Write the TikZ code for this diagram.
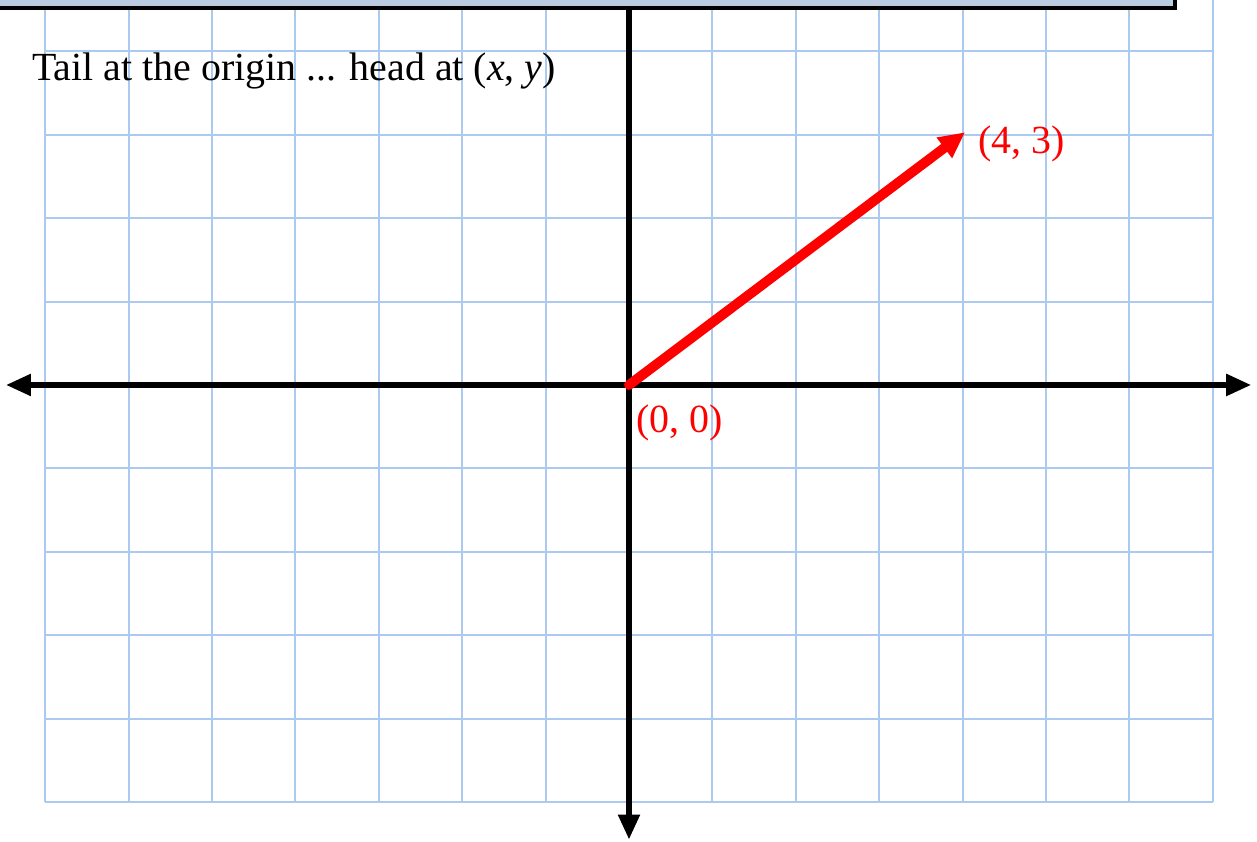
\documentclass[tikz,border=0pt]{standalone}
\usepackage{fontspec}
\setmainfont{Liberation Serif}
\usepackage{xcolor}
\usetikzlibrary{arrows.meta,positioning}

\definecolor{gridblue}{RGB}{172,202,240}
\definecolor{barfill}{RGB}{188,204,224}

\begin{document}
\begin{tikzpicture}[
    x=1.668cm, y=1.668cm,
    gridline/.style={draw=gridblue, line width=1.1pt, step=1},
    axis/.style={line width=3.1pt, color=black},
    vec/.style={line width=5.6pt, color=red, line cap=round, -{Triangle[length=0.52cm, width=0.48cm]}},
    lbl/.style={font=\fontsize{22.7pt}{27pt}\selectfont, inner sep=0pt, anchor=base west},
    topbar/.style={draw=black, line width=2pt, fill=barfill}
]
    \useasboundingbox (-7.542,-5.468) rectangle (7.530,4.616);

    % grid
    \draw[gridline] (-7,-5) grid (7,4.7);

    % axes
    \coordinate (xL) at (-7.47,0);
    \coordinate (xR) at (7.46,0);
    \coordinate (yT) at (0,4.7);
    \coordinate (yB) at (0,-5.45);
    \draw[axis, {Triangle[length=0.5cm, width=0.42cm]}-{Triangle[length=0.5cm, width=0.42cm]}] (xL) -- (xR);
    \draw[axis, -{Triangle[length=0.5cm, width=0.42cm]}] (yT) -- (yB);

    % bar at the top
    \draw[topbar] (-7.7,4.52) rectangle (6.547,4.9);

    % vector
    \coordinate (O) at (0,0);
    \coordinate (P) at (4.03,3.03);
    \draw[vec] (O) -- (P);

    \node[lbl, text=red] (lblO) at (0.084,-0.564) {(0, 0)};
    \node[lbl, text=red] (lblP) at (4.185,2.77) {(4, 3)};
    \node[lbl] (title) at (-7.158,3.645) {Tail at the origin ... head at (\textit{x}, \textit{y})};
\end{tikzpicture}
\end{document}
